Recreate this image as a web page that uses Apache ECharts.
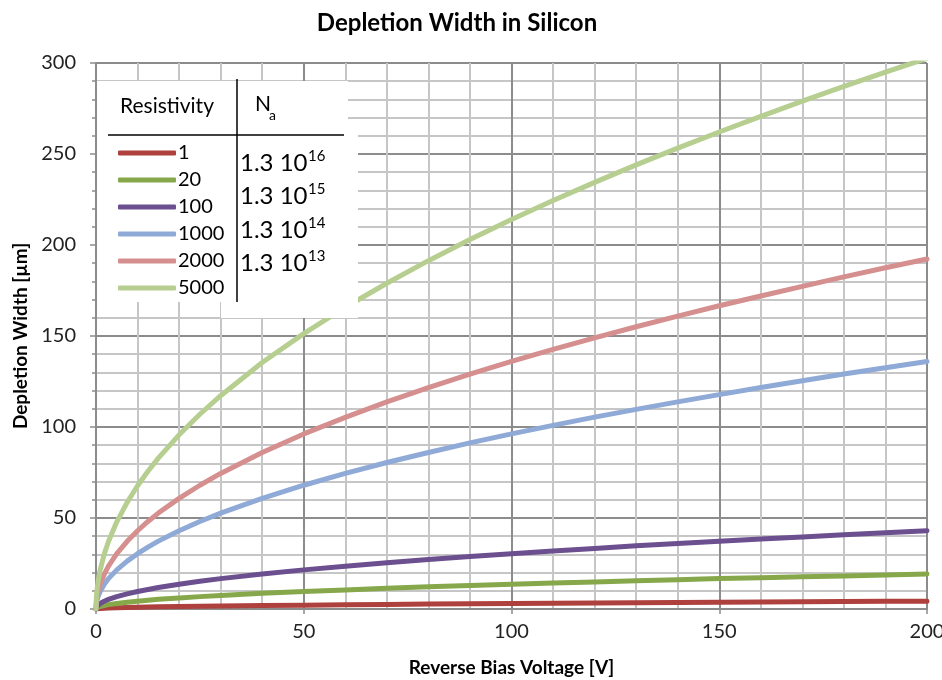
<!DOCTYPE html>
<html>
<head>
<meta charset="utf-8">
<script src="https://cdn.jsdelivr.net/npm/echarts@6/dist/echarts.min.js"></script>
<style>
  html, body { margin: 0; padding: 0; background: #fff; }
  #chart { width: 942px; height: 680px; }
</style>
</head>
<body>
<div id="chart"></div>
<script>
// Reverse bias voltage samples [V]
const voltage = [0, 0.1, 0.25, 0.5, 1, 2, 3, 5, 7.5, 10, 12.5, 15, 20, 25, 30, 40, 50, 60, 70, 80, 90, 100, 110, 120, 130, 140, 150, 160, 170, 180, 190, 200];

// Depletion width [µm] for each resistivity [Ohm cm]
const w1    = [0, 0.1, 0.15, 0.2, 0.3, 0.4, 0.5, 0.7, 0.8, 1.0, 1.1, 1.2, 1.4, 1.5, 1.7, 1.9, 2.1, 2.4, 2.5, 2.7, 2.9, 3.0, 3.2, 3.3, 3.5, 3.6, 3.7, 3.8, 4.0, 4.1, 4.2, 4.3];
const w20   = [0, 0.4, 0.7, 1.0, 1.4, 1.9, 2.4, 3.0, 3.7, 4.3, 4.8, 5.3, 6.1, 6.8, 7.4, 8.6, 9.6, 10.5, 11.4, 12.2, 12.9, 13.6, 14.3, 14.9, 15.5, 16.1, 16.7, 17.2, 17.7, 18.2, 18.7, 19.2];
const w100  = [0, 1.0, 1.5, 2.1, 3.0, 4.3, 5.3, 6.8, 8.3, 9.6, 10.7, 11.8, 13.6, 15.2, 16.7, 19.2, 21.5, 23.5, 25.4, 27.2, 28.8, 30.4, 31.9, 33.3, 34.7, 36.0, 37.2, 38.5, 39.6, 40.8, 41.9, 43.0];
const w1000 = [0, 3.0, 4.8, 6.8, 9.6, 13.6, 16.7, 21.5, 26.3, 30.4, 34.0, 37.3, 43.0, 48.1, 52.7, 60.8, 68.0, 74.5, 80.5, 86.0, 91.3, 96.2, 100.9, 105.4, 109.7, 113.8, 117.8, 121.7, 125.4, 129.1, 132.6, 136.0];
const w2000 = [0, 4.3, 6.8, 9.6, 13.6, 19.2, 23.6, 30.4, 37.2, 43.0, 48.1, 52.7, 60.8, 68.0, 74.5, 86.0, 96.2, 105.3, 113.8, 121.6, 129.0, 136.0, 142.6, 149.0, 155.1, 160.9, 166.6, 172.0, 177.3, 182.5, 187.5, 192.3];
const w5000 = [0, 6.8, 10.7, 15.1, 21.4, 30.3, 37.1, 47.9, 58.6, 67.7, 75.7, 82.9, 95.7, 107.0, 117.2, 135.4, 151.3, 165.8, 179.0, 191.4, 203.0, 214.0, 224.4, 234.4, 244.0, 253.2, 262.1, 270.7, 279.0, 287.1, 295.0, 302.6];

const resistivity = ['1', '20', '100', '1000', '2000', '5000'];
const widths = [w1, w20, w100, w1000, w2000, w5000];
const colors = ['#AE403D', '#86A84A', '#6B4F8E', '#8FAAD6', '#D58F8E', '#B6CE8F'];

// Acceptor concentration column [cm^-3]
const naMantissa = ['1.3', '1.3', '1.3', '1.3'];
const naExponent = ['16', '15', '14', '13'];

const FONT = 'Lato, "Open Sans", sans-serif';

function textWidth(str, font) {
  const ctx = document.createElement('canvas').getContext('2d');
  ctx.font = font;
  return ctx.measureText(str).width;
}

const series = resistivity.map((name, i) => ({
  name: name,
  type: 'line',
  data: voltage.map((v, j) => [v, widths[i][j]]),
  showSymbol: false,
  smooth: false,
  clip: true,
  lineStyle: { width: 5, color: colors[i], cap: 'round', join: 'round' },
  itemStyle: { color: colors[i] },
  z: 3
}));

// Table overlay: white panels, rules, header and N_a column
const naFont = '24px ' + FONT;
const graphics = [
  { type: 'rect', shape: { x: 97, y: 81, width: 251, height: 55 }, style: { fill: '#fff' }, z: 10 },
  { type: 'rect', shape: { x: 97, y: 135, width: 125, height: 167 }, style: { fill: '#fff' }, z: 10 },
  { type: 'rect', shape: { x: 221, y: 135, width: 137, height: 183 }, style: { fill: '#fff' }, z: 10 },
  { type: 'line', shape: { x1: 108, y1: 135, x2: 344, y2: 135 }, style: { stroke: '#000', lineWidth: 1.5 }, z: 11 },
  { type: 'line', shape: { x1: 237, y1: 79, x2: 237, y2: 302 }, style: { stroke: '#000', lineWidth: 1.5 }, z: 11 },
  { type: 'text', x: 120, y: 106, style: { text: 'Resistivity', font: '21px ' + FONT, fill: '#000', textVerticalAlign: 'middle' }, z: 12 },
  { type: 'text', x: 255, y: 104, style: { text: 'N', font: '21px ' + FONT, fill: '#000', textVerticalAlign: 'middle' }, z: 12 },
  { type: 'text', x: 269, y: 115, style: { text: 'a', font: '14px ' + FONT, fill: '#000', textVerticalAlign: 'middle' }, z: 12 }
];
naMantissa.forEach((m, i) => {
  const y = 163 + i * 33.5;
  const base = m + ' 10';
  graphics.push({ type: 'text', x: 240, y: y, style: { text: base, font: naFont, fill: '#000', textVerticalAlign: 'middle' }, z: 12 });
  graphics.push({ type: 'text', x: 240 + textWidth(base, naFont) + 0.5, y: y - 7, style: { text: naExponent[i], font: '15px ' + FONT, fill: '#000', textVerticalAlign: 'middle' }, z: 12 });
});

const chart = echarts.init(document.getElementById('chart'), null, { renderer: 'canvas' });
chart.setOption({
  backgroundColor: '#fff',
  animation: false,
  title: {
    text: 'Depletion Width in Silicon',
    left: 452, top: 6, textAlign: 'center',
    textStyle: { fontFamily: FONT, fontSize: 24, fontWeight: 'bold', color: '#000' }
  },
  legend: {
    data: resistivity,
    orient: 'vertical',
    left: 118, top: 143, padding: 0,
    itemWidth: 58, itemHeight: 5, itemGap: 7,
    icon: 'roundRect',
    textStyle: { fontFamily: FONT, fontSize: 20, lineHeight: 20, color: '#000', padding: [0, 0, 0, -3] },
    z: 13
  },
  grid: { left: 96, right: 15, top: 63, bottom: 71, containLabel: false, outerBoundsMode: 'none' },
  xAxis: {
    type: 'value', min: 0, max: 200, interval: 50,
    name: 'Reverse Bias Voltage [V]', nameLocation: 'middle', nameGap: 49,
    nameTextStyle: { fontFamily: FONT, fontSize: 19, fontWeight: 'bold', color: '#000' },
    axisLine: { show: true, onZero: false, lineStyle: { color: '#8c8c8c', width: 2 } },
    axisTick: { show: true, length: 5, lineStyle: { color: '#8c8c8c', width: 1.5 } },
    axisLabel: { fontFamily: FONT, fontSize: 20, color: '#222', margin: 13 },
    splitLine: { show: true, lineStyle: { color: '#8c8c8c', width: 2 } },
    minorTick: { show: false, splitNumber: 5 },
    minorSplitLine: { show: true, lineStyle: { color: '#c6c6c6', width: 2 } }
  },
  yAxis: {
    type: 'value', min: 0, max: 300, interval: 50,
    name: 'Depletion Width [µm]', nameLocation: 'middle', nameGap: 62,
    nameTextStyle: { fontFamily: FONT, fontSize: 19, fontWeight: 'bold', color: '#000' },
    axisLine: { show: true, lineStyle: { color: '#8c8c8c', width: 2 } },
    axisTick: { show: true, length: 6, lineStyle: { color: '#8c8c8c', width: 1.5 } },
    axisLabel: { fontFamily: FONT, fontSize: 20, color: '#222', margin: 20 },
    splitLine: { show: true, lineStyle: { color: '#8c8c8c', width: 2 } },
    minorTick: { show: true, splitNumber: 5, length: 4, lineStyle: { color: '#8c8c8c', width: 1.5 } },
    minorSplitLine: { show: true, lineStyle: { color: '#c6c6c6', width: 2 } }
  },
  series: series,
  graphic: graphics
});
</script>
</body>
</html>
